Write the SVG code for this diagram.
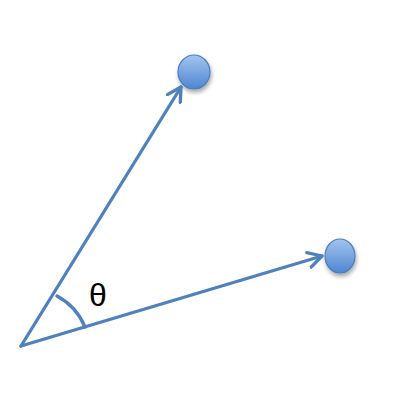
<svg xmlns="http://www.w3.org/2000/svg" width="400" height="416" viewBox="0 0 400 416">
<defs>
<linearGradient id="g" x1="0" y1="0" x2="0" y2="1">
<stop offset="0" stop-color="#a3c4ef"/>
<stop offset="1" stop-color="#4f86d0"/>
</linearGradient>
<filter id="sh" x="-50%" y="-50%" width="200%" height="200%">
<feGaussianBlur in="SourceAlpha" stdDeviation="2"/>
<feOffset dx="1" dy="3" result="b"/>
<feComponentTransfer><feFuncA type="linear" slope="0.35"/></feComponentTransfer>
<feMerge><feMergeNode/><feMergeNode in="SourceGraphic"/></feMerge>
</filter>
<marker id="ah" viewBox="0 0 12 12" refX="10" refY="6" markerWidth="5.5" markerHeight="5.5" orient="auto" markerUnits="strokeWidth">
<path d="M1,1 L10,6 L1,11" fill="none" stroke="#4f81bd" stroke-width="2.2" stroke-linecap="round" stroke-linejoin="round"/>
</marker>
<style>
.c{fill:url(#g);stroke:#4a7ebb;stroke-width:1.2;filter:url(#sh)}
.l{stroke:#4f81bd;stroke-width:3.3;fill:none;stroke-linecap:round}
</style>
</defs>
<g id="nodeA"><ellipse class="c" cx="194" cy="72" rx="16" ry="17"/></g>
<g id="nodeB"><ellipse class="c" cx="340" cy="256" rx="15" ry="17"/></g>
<g id="connectors">
<line class="l" x1="21" y1="346" x2="181" y2="87" marker-end="url(#ah)"/>
<line class="l" x1="21" y1="346" x2="322" y2="256" marker-end="url(#ah)"/>
<path class="l" d="M57,296 A62,62 0 0 1 85,327"/>
</g>
<text x="98" y="306" font-family="Liberation Sans, Arial, sans-serif" font-size="32" text-anchor="middle" fill="#000">θ</text>
</svg>
